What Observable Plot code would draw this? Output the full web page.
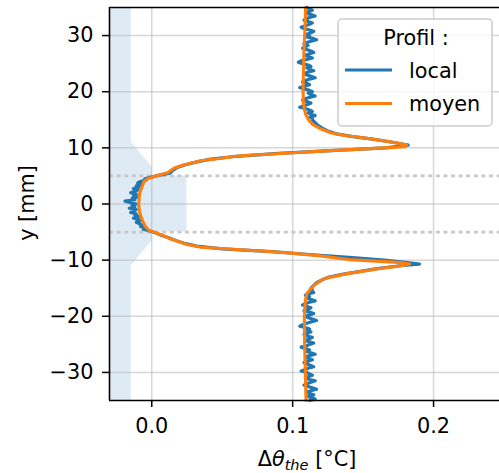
<!DOCTYPE html>
<html><head><meta charset="utf-8">
<script src="https://cdn.jsdelivr.net/npm/d3@7"></script>
<script src="https://cdn.jsdelivr.net/npm/@observablehq/plot@0.6"></script>
<style>body{margin:0;background:#fff;} svg{font-family:"DejaVu Sans";}</style>
</head><body><div id="chart"></div>
<script>
// ---- data ----
const seriesNames = ["local", "moyen"];
const seriesColors = ["#1f77b4", "#ff7f0e"];
const legendTitle = "Profil :";
const xTicks = [0.0, 0.1, 0.2];
const yTicks = [-30, -20, -10, 0, 10, 20, 30];
const dashY = [5, -5];

// local profile, in segments (y [mm], Δθ [°C])
const localTopY = [35,34.75,34.5,34.25,34,33.75,33.5,33.25,33,32.75,32.5,32.25,32,31.75,31.5,31.25,31,30.75,30.5,30.25,30,29.75,29.5,29.25,29,28.75,28.5,28.25,28,27.75,27.5,27.25,27,26.75,26.5,26.25,26,25.75,25.5,25.25,25,24.75,24.5,24.25,24,23.75,23.5,23.25,23,22.75,22.5,22.25,22,21.75,21.5,21.25,21,20.75,20.5,20.25,20,19.75,19.5,19.25,19,18.75,18.5,18.25,18,17.75,17.5,17.25,17,16.75,16.5,16.25,16,15.75,15.5,15.25];
const localTopX = [0.110,0.112,0.114,0.111,0.109,0.113,0.116,0.112,0.110,0.108,0.111,0.114,0.112,0.109,0.106,0.108,0.112,0.115,0.113,0.110,0.112,0.110,0.114,0.117,0.113,0.110,0.108,0.111,0.109,0.107,0.110,0.113,0.115,0.112,0.109,0.111,0.114,0.110,0.106,0.104,0.107,0.111,0.113,0.110,0.112,0.115,0.111,0.108,0.110,0.113,0.116,0.112,0.109,0.107,0.110,0.112,0.109,0.105,0.108,0.112,0.114,0.111,0.113,0.116,0.112,0.109,0.107,0.110,0.113,0.111,0.108,0.105,0.109,0.112,0.114,0.111,0.113,0.116,0.112,0.114];
const localUpY = [15,14.5,14,13.5,13,12.5,12,11.5,11,10.5,10,9.5,9,8.5,8,7.5,7,6.5,6,5.5,5];
const localUpX = [0.114,0.116,0.118,0.121,0.125,0.131,0.143,0.158,0.171,0.182,0.166,0.127,0.090,0.060,0.042,0.032,0.024,0.018,0.015,0.013,0.003];
const localMidY = [4.75,4.5,4.25,4,3.75,3.5,3.25,3,2.75,2.5,2.25,2,1.75,1.5,1.25,1,0.75,0.5,0.25,0,-0.25,-0.5,-0.75,-1,-1.25,-1.5,-1.75,-2,-2.25,-2.5,-2.75,-3,-3.25,-3.5,-3.75,-4,-4.25,-4.5,-4.75];
const localMidX = [-0.001,-0.005,-0.004,-0.008,-0.010,-0.007,-0.011,-0.009,-0.013,-0.010,-0.012,-0.015,-0.011,-0.013,-0.010,-0.014,-0.012,-0.019,-0.015,-0.011,-0.014,-0.012,-0.016,-0.011,-0.013,-0.015,-0.011,-0.012,-0.009,-0.013,-0.010,-0.008,-0.011,-0.009,-0.007,-0.008,-0.005,-0.006,-0.002];
const localLowY = [-5,-5.5,-6,-6.5,-7,-7.5,-8,-8.5,-9,-9.5,-10,-10.4,-10.7,-11,-11.5,-12,-12.5,-13,-13.5,-14,-14.5,-15];
const localLowX = [0.001,0.006,0.012,0.017,0.023,0.032,0.050,0.085,0.112,0.140,0.165,0.180,0.190,0.176,0.160,0.148,0.136,0.126,0.121,0.117,0.115,0.113];
const localBotY = [-15.25,-15.5,-15.75,-16,-16.25,-16.5,-16.75,-17,-17.25,-17.5,-17.75,-18,-18.25,-18.5,-18.75,-19,-19.25,-19.5,-19.75,-20,-20.25,-20.5,-20.75,-21,-21.25,-21.5,-21.75,-22,-22.25,-22.5,-22.75,-23,-23.25,-23.5,-23.75,-24,-24.25,-24.5,-24.75,-25,-25.25,-25.5,-25.75,-26,-26.25,-26.5,-26.75,-27,-27.25,-27.5,-27.75,-28,-28.25,-28.5,-28.75,-29,-29.25,-29.5,-29.75,-30,-30.25,-30.5,-30.75,-31,-31.25,-31.5,-31.75,-32,-32.25,-32.5,-32.75,-33,-33.25,-33.5,-33.75,-34,-34.25,-34.5,-34.75,-35];
const localBotX = [0.114,0.112,0.115,0.111,0.109,0.112,0.110,0.113,0.116,0.112,0.109,0.107,0.110,0.113,0.111,0.108,0.112,0.115,0.112,0.109,0.111,0.114,0.117,0.113,0.110,0.107,0.105,0.109,0.112,0.110,0.113,0.111,0.108,0.110,0.114,0.112,0.109,0.111,0.115,0.112,0.110,0.106,0.109,0.112,0.110,0.113,0.116,0.112,0.109,0.111,0.114,0.111,0.108,0.110,0.113,0.115,0.111,0.109,0.106,0.110,0.112,0.114,0.111,0.109,0.112,0.116,0.113,0.110,0.108,0.111,0.114,0.117,0.113,0.110,0.112,0.115,0.111,0.113,0.116,0.112];

// mean profile
const moyenY = [35,33,30,27,25,22,20,18,17,16,15,14.2,13.5,12.7,12.2,11.8,11.3,10.9,10.5,10.2,9.95,9.5,9.0,8.6,7.7,7.0,6.4,5.6,5.0,4.5,4.0,3.0,2.0,1.0,0,-1,-2,-3,-4,-4.7,-5.0,-5.6,-6.2,-7.2,-7.7,-8.6,-9.2,-9.9,-10.4,-10.7,-11.1,-11.5,-12.4,-13.3,-14.5,-16,-17.2,-20,-25,-30,-35];
const moyenX = [0.1092,0.109,0.1085,0.108,0.1078,0.1075,0.1074,0.1076,0.1082,0.1092,0.1112,0.114,0.119,0.127,0.137,0.150,0.163,0.173,0.181,0.180,0.162,0.127,0.0915,0.063,0.035,0.023,0.016,0.0115,0.003,-0.003,-0.0055,-0.007,-0.0085,-0.009,-0.0092,-0.009,-0.008,-0.0065,-0.0045,-0.002,0.0016,0.008,0.013,0.025,0.035,0.0915,0.118,0.140,0.175,0.183,0.175,0.162,0.139,0.122,0.115,0.110,0.109,0.1083,0.1085,0.109,0.1095];

// shaded uncertainty band (upper x bound, filled from left axis limit)
const shadeY = [35, 11, 6.5, 5, 5, -5, -5, -6.5, -11, -35];
const shadeX = [-0.0145, -0.0145, 0.0005, 0.0005, 0.025, 0.025, 0.0005, 0.0005, -0.0145, -0.0145];

const xDomain = [-0.03, 0.2468];
const yDomain = [-35, 35];

const localY = [...localTopY, ...localUpY, ...localMidY, ...localLowY, ...localBotY];
const localX = [...localTopX, ...localUpX, ...localMidX, ...localLowX, ...localBotX];
const localData = localY.map((y, i) => ({y, x: localX[i]}));
const moyenData = moyenY.map((y, i) => ({y, x: moyenX[i]}));
const shadeData = shadeY.map((y, i) => ({y, x: shadeX[i]}));

const fs = 20.8;
const svg = Plot.plot({
  width: 499, height: 473,
  marginLeft: 109, marginRight: 0, marginTop: 7, marginBottom: 73,
  style: {fontFamily: "DejaVu Sans", fontSize: fs + "px", background: "white", color: "black", overflow: "visible"},
  x: {domain: xDomain},
  y: {domain: yDomain},
  marks: [
    Plot.areaX(shadeData, {y: "y", x1: xDomain[0], x2: "x", fill: seriesColors[0], fillOpacity: 0.15}),
    Plot.gridX(xTicks, {stroke: "#b0b0b0", strokeOpacity: 0.5, strokeWidth: 1.5}),
    Plot.gridY(yTicks, {stroke: "#b0b0b0", strokeOpacity: 0.5, strokeWidth: 1.5}),
    Plot.ruleY(dashY, {stroke: "#c8c8c8", strokeWidth: 2.8, strokeDasharray: "4,3.6"}),
    Plot.line(localData, {x: "x", y: "y", stroke: seriesColors[0], strokeWidth: 3.2}),
    Plot.line(moyenData, {x: "x", y: "y", stroke: seriesColors[1], strokeWidth: 3.1}),
    Plot.ruleX([xDomain[0]], {stroke: "black", strokeWidth: 1.6}),
    Plot.ruleY(yDomain, {stroke: "black", strokeWidth: 1.6}),
    Plot.axisX(xTicks, {tickSize: 7, tickPadding: 11, tickFormat: d3.format(".1f"), label: null, strokeWidth: 1.5}),
    Plot.axisY(yTicks, {tickSize: 7, tickPadding: 9, tickFormat: d3.format("d"), label: null, strokeWidth: 1.5})
  ]
});

const s = d3.select(svg);
s.selectAll('g[aria-label$="tick label"]').attr("font-size", fs).style("font-size", fs + "px");
// x label
const xl = s.append("text").attr("x", 307).attr("y", 466).attr("text-anchor", "middle")
  .attr("font-size", fs).attr("fill", "black");
xl.append("tspan").text("Δ");
xl.append("tspan").attr("font-style", "italic").text("θ");
xl.append("tspan").attr("font-style", "italic").attr("font-size", fs * 0.7).attr("dy", 3.5).text("the");
xl.append("tspan").attr("dy", -3.5).text(" [°C]");
// y label
s.append("text").attr("transform", "translate(34,203) rotate(-90)").attr("text-anchor", "middle")
  .attr("font-size", fs).attr("fill", "black").text("y [mm]");

// legend
const lg = s.append("g");
lg.append("rect").attr("x", 338).attr("y", 19).attr("width", 154).attr("height", 107).attr("rx", 4)
  .attr("fill", "white").attr("fill-opacity", 0.8).attr("stroke", "#cccccc").attr("stroke-width", 1.5);
lg.append("text").attr("x", 416).attr("y", 45).attr("text-anchor", "middle").attr("font-size", fs).text(legendTitle);
seriesNames.forEach((name, i) => {
  const yy = 70 + i * 33.5;
  lg.append("line").attr("x1", 345).attr("x2", 392).attr("y1", yy).attr("y2", yy)
    .attr("stroke", seriesColors[i]).attr("stroke-width", 3.1);
  lg.append("text").attr("x", 409).attr("y", yy + 7.5).attr("text-anchor", "start").attr("font-size", fs).text(name);
});

document.getElementById("chart").appendChild(svg);
</script></body></html>
